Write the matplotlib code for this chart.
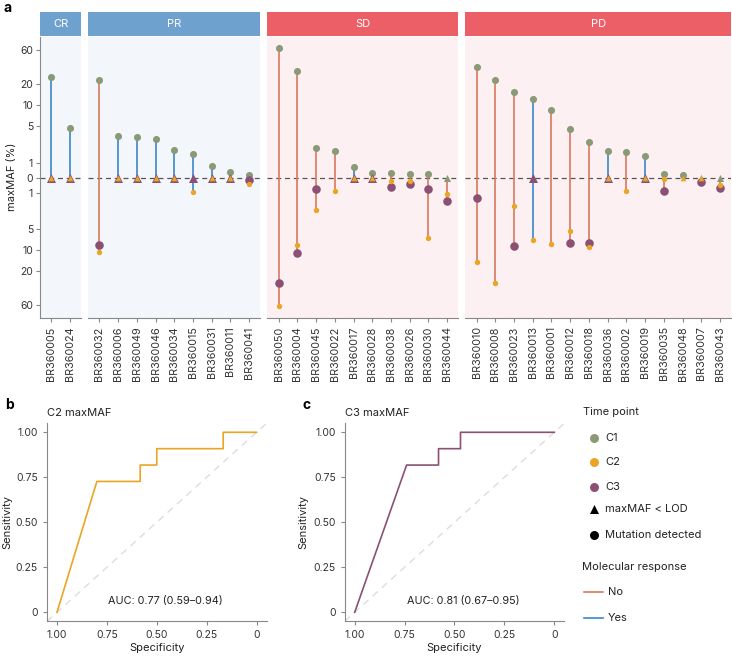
import numpy as np
import matplotlib.pyplot as plt

plt.rcParams['font.family'] = ['Inter', 'DejaVu Sans']
plt.rcParams['axes.linewidth'] = 0.8

nan = np.nan

# panel a: maxMAF (%) per patient; 0 = below LOD, nan = not available
samples = ['BR360005', 'BR360024',
           'BR360032', 'BR360006', 'BR360049', 'BR360046', 'BR360034', 'BR360015',
           'BR360031', 'BR360011', 'BR360041',
           'BR360050', 'BR360004', 'BR360045', 'BR360022', 'BR360017', 'BR360028',
           'BR360038', 'BR360026', 'BR360030', 'BR360044',
           'BR360010', 'BR360008', 'BR360023', 'BR360013', 'BR360001', 'BR360012',
           'BR360018', 'BR360036', 'BR360002', 'BR360019', 'BR360035', 'BR360048',
           'BR360007', 'BR360043']
response = ['CR'] * 2 + ['PR'] * 9 + ['SD'] * 10 + ['PD'] * 14
c1 = [24.9, 4.7,
      22.8, 3.55, 3.4, 3.2, 2.0, 1.7, 0.76, 0.36, 0.19,
      63, 30.4, 2.16, 1.95, 0.72, 0.28, 0.28, 0.21, 0.21, 0,
      34.6, 22.6, 15.5, 12.3, 8.5, 4.6, 2.86, 1.95, 1.83, 1.53, 0.26, 0.15, 0, 0]
c2 = [0, 0,
      10.6, 0, 0, 0, 0, 0.97, 0, 0, 0.43,
      61, 8.6, 2.45, 0.9, 0, 0, 0.22, 0.24, 6.7, 1.07,
      14.7, 29.2, 2.08, 7.25, 8.4, 5.3, 9.2, 0, 0.88, 0, 0.11, 0, 0, 0.47]
c3 = [0, 0,
      8.6, 0, 0, 0, 0, 0, 0, 0, 0.17,
      29, 11.2, 0.75, nan, 0, 0, 0.61, 0.39, 0.73, 1.62,
      1.42, nan, 8.75, 0, nan, 8.0, 8.1, 0, nan, 0, 0.86, nan, 0.3, 0.7]
molecular = ['Yes', 'Yes',
             'No', 'Yes', 'Yes', 'Yes', 'Yes', 'Yes', 'Yes', 'Yes', 'Yes',
             'No', 'No', 'No', 'No', 'Yes', 'Yes', 'No', 'No', 'No', 'No',
             'No', 'No', 'No', 'Yes', 'No', 'No', 'No', 'Yes', 'No', 'Yes', 'No', 'No',
             'No', 'No']
groups = ['CR', 'PR', 'SD', 'PD']

# panels b and c: ROC curves
c2_spec = [1.0, 0.8, 0.583, 0.583, 0.5, 0.5, 0.167, 0.167, 0.0]
c2_sens = [0.0, 0.727, 0.727, 0.818, 0.818, 0.909, 0.909, 1.0, 1.0]
c3_spec = [1.0, 0.74, 0.58, 0.58, 0.47, 0.47, 0.0]
c3_sens = [0.0, 0.818, 0.818, 0.909, 0.909, 1.0, 1.0]
c2_auc = 'AUC: 0.77 (0.59\u20130.94)'
c3_auc = 'AUC: 0.81 (0.67\u20130.95)'

col_c1 = '#8a9a77'
col_c2 = '#e9a523'
col_c3 = '#8a5174'
col_no = '#d8785c'
col_yes = '#3b87c8'
strip_col = {'CR': '#6fa1cf', 'PR': '#6fa1cf', 'SD': '#ec5f67', 'PD': '#ec5f67'}
bg_col = {'CR': '#f3f7fc', 'PR': '#f3f7fc', 'SD': '#fdf0f2', 'PD': '#fdf0f2'}
grey = '#555555'
tick_grey = '#888888'
txt = '#333333'

W, H = 732, 657
fig = plt.figure(figsize=(W / 100, H / 100), dpi=100)


def add_ax(x0, y0, x1, y1):
    return fig.add_axes([x0 / W, 1 - y1 / H, (x1 - x0) / W, (y1 - y0) / H])


def fwd(v):
    return np.arcsinh(np.asarray(v, dtype=float) / 2)


def inv(v):
    return 2 * np.sinh(np.asarray(v, dtype=float))


yticks = [-60, -20, -10, -5, -1, 0, 1, 5, 10, 20, 60]

k = 18.72
gap = 7
x = 40
for gi, g in enumerate(groups):
    idx = [i for i, r in enumerate(response) if r == g]
    n = len(idx)
    w = (n + 0.2) * k
    ax = add_ax(x, 36.5, x + w, 318)
    st = add_ax(x, 11.7, x + w, 35.7)
    st.set_facecolor(strip_col[g])
    st.set_xticks([])
    st.set_yticks([])
    for s in st.spines.values():
        s.set_visible(False)
    st.text(0.5, 0.5, g, color='white', fontsize=8, ha='center', va='center',
            transform=st.transAxes)

    ax.set_facecolor(bg_col[g])
    ax.set_yscale('function', functions=(fwd, inv))
    ax.set_ylim(-90, 92)
    ax.set_xlim(0.4, n + 0.6)
    ax.axhline(0, color=grey, lw=0.9, ls=(0, (4, 3)), zorder=1)

    pos = np.arange(1, n + 1)
    v1 = np.array([c1[i] for i in idx], dtype=float)
    v2 = -np.array([c2[i] for i in idx], dtype=float)
    v3 = -np.array([c3[i] for i in idx], dtype=float)
    allv = np.vstack([v1, v2, v3])
    ymax = np.nanmax(allv, axis=0)
    ymin = np.nanmin(allv, axis=0)
    lcol = [col_no if molecular[i] == 'No' else col_yes for i in idx]
    ax.vlines(pos, ymin, ymax, colors=lcol, lw=1.2, zorder=2)

    # C1, then C3, then C2 on top
    for vals, col, s_dot, s_tri in [(v1, col_c1, 26, 26), (v3, col_c3, 38, 42), (v2, col_c2, 15, 17)]:
        det = ~np.isnan(vals) & (vals != 0)
        lod = ~np.isnan(vals) & (vals == 0)
        ax.scatter(pos[det], vals[det], s=s_dot, color=col, lw=0, zorder=3)
        ax.scatter(pos[lod], vals[lod], s=s_tri, marker='^', color=col, lw=0, zorder=3)

    ax.set_xticks(pos)
    ax.set_xticklabels([samples[i] for i in idx], rotation=90, fontsize=7.8, color=txt)
    ax.tick_params(axis='x', length=3, color=tick_grey, pad=3)
    for sp in ['top', 'right']:
        ax.spines[sp].set_visible(False)
    ax.spines['bottom'].set_color(tick_grey)
    ax.yaxis.set_minor_locator(plt.NullLocator())
    if gi == 0:
        ax.set_yticks(yticks)
        ax.set_yticklabels([str(abs(t)) for t in yticks], fontsize=7.5, color=txt)
        ax.tick_params(axis='y', length=3, color=tick_grey, pad=2)
        ax.spines['left'].set_color(tick_grey)
    else:
        ax.set_yticks([])
        ax.spines['left'].set_visible(False)
    x += w + gap

fig.text(12 / W, 1 - 177 / H, 'maxMAF (%)', rotation=90, fontsize=8, ha='center', va='center',
         color='#222222')
fig.text(3 / W, 1 - 8 / H, 'a', fontsize=10, fontweight='bold', ha='left', va='center')


def roc_panel(x0, x1, spec, sens, col, title, auc, letter, ylab_x):
    ax = add_ax(x0, 423.3, x1, 621.3)
    ax.set_xlim(1.05, -0.05)
    ax.set_ylim(-0.05, 1.05)
    ax.plot([1.05, -0.05], [-0.05, 1.05], color='#dddddd', lw=1, ls=(0, (5, 4)), zorder=1)
    ax.plot(spec, sens, color=col, lw=1.2, zorder=2)
    ax.set_xticks([1, 0.75, 0.5, 0.25, 0])
    ax.set_xticklabels(['1.00', '0.75', '0.50', '0.25', '0'], fontsize=7.5, color=txt)
    ax.set_yticks([0, 0.25, 0.5, 0.75, 1])
    ax.set_yticklabels(['0', '0.25', '0.50', '0.75', '1.00'], fontsize=7.5, color=txt)
    ax.tick_params(length=3, color=tick_grey)
    for sp in ['top', 'right']:
        ax.spines[sp].set_visible(False)
    for sp in ['left', 'bottom']:
        ax.spines[sp].set_color(tick_grey)
    ax.set_xlabel('Specificity', fontsize=8, color='#222222', labelpad=2)
    ax.text(0.455, 0.064, auc, fontsize=7.8, ha='center', va='center', color='#222222')
    fig.text(ylab_x / W, 1 - 522 / H, 'Sensitivity', rotation=90, fontsize=8,
             ha='center', va='center', color='#222222')
    fig.text(x0 / W, 1 - 413 / H, title, fontsize=8, ha='left', va='center', color='#222222')
    fig.text((x0 - 42) / W, 1 - 405 / H, letter, fontsize=10, fontweight='bold',
             ha='left', va='center')
    return ax


roc_panel(47, 266.5, c2_spec, c2_sens, col_c2, 'C2 maxMAF', c2_auc, 'b', 7)
roc_panel(344.7, 564.3, c3_spec, c3_sens, col_c3, 'C3 maxMAF', c3_auc, 'c', 303)

# legend
lg = add_ax(570, 395, 732, 640)
lg.set_xlim(570, 732)
lg.set_ylim(640, 395)
lg.axis('off')
tc = '#222222'
lg.text(582.7, 412.3, 'Time point', fontsize=8, va='center', ha='left', color=tc)
for yy, col, lab in [(437.7, col_c1, 'C1'), (462.3, col_c2, 'C2'), (487, col_c3, 'C3')]:
    lg.scatter([594], [yy], s=42, color=col, lw=0)
    lg.text(605, yy, lab, fontsize=8, va='center', ha='left', color=tc)
lg.scatter([594], [509], s=42, marker='^', color='black', lw=0)
lg.text(605, 509, 'maxMAF < LOD', fontsize=8, va='center', ha='left', color=tc)
lg.scatter([594], [535.3], s=42, color='black', lw=0)
lg.text(605, 535.3, 'Mutation detected', fontsize=8, va='center', ha='left', color=tc)
lg.text(581.7, 567.3, 'Molecular response', fontsize=8, va='center', ha='left', color=tc)
lg.plot([584, 603.3], [592.3, 592.3], color=col_no, lw=1.2)
lg.text(608, 592.3, 'No', fontsize=8, va='center', ha='left', color=tc)
lg.plot([584, 603.3], [617.7, 617.7], color=col_yes, lw=1.2)
lg.text(608, 617.7, 'Yes', fontsize=8, va='center', ha='left', color=tc)

fig.savefig('out.png', dpi=100)
